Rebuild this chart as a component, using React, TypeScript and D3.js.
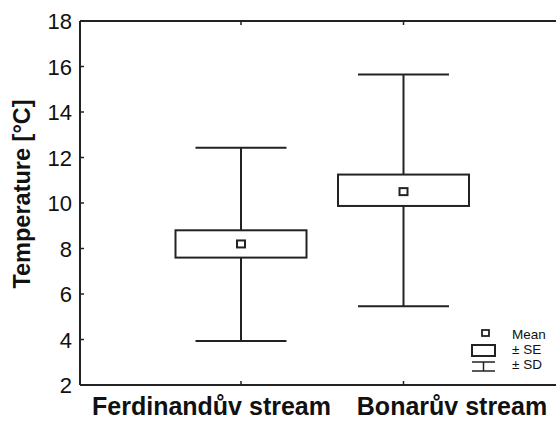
import React from "react";
import * as d3 from "d3";

// values
const streams = ["Ferdinandův stream", "Bonarův stream"];
const means = [8.2, 10.5];
const seLow = [7.6, 9.87];
const seHigh = [8.8, 11.25];
const sdLow = [3.93, 5.46];
const sdHigh = [12.43, 15.65];
const yTicks = [2, 4, 6, 8, 10, 12, 14, 16, 18];
const legendItems = ["Mean", "± SE", "± SD"];

const W = 556;
const H = 421;
const margin = { top: 21, left: 80, bottom: 36 };
const ink = "#222";

export default function App() {
  const y = d3
    .scaleLinear()
    .domain([2, 18])
    .range([H - margin.bottom, margin.top]);
  const x = d3.scalePoint().domain(streams).range([241, 403.5]);

  const boxW = 131;
  const capW = 91;
  // labels in the original are pushed apart so they don't collide
  const labelShift = [-29.5, 48.5];

  return (
    <svg
      width={W}
      height={H}
      style={{ position: "absolute", left: 0, top: 0 }}
      fontFamily="'Liberation Sans', Arial, sans-serif"
    >
      <rect width={W} height={H} fill="#fff" />
      {/* frame */}
      <line x1={margin.left} x2={W + 5} y1={y(18)} y2={y(18)} stroke={ink} strokeWidth={2} />
      <line x1={margin.left} x2={W + 5} y1={y(2)} y2={y(2)} stroke={ink} strokeWidth={2} />
      <line x1={margin.left} x2={margin.left} y1={y(18)} y2={y(2)} stroke={ink} strokeWidth={2} />

      {/* y ticks */}
      {yTicks.map((t) => (
        <g key={t}>
          <line x1={margin.left} x2={margin.left + 4} y1={y(t)} y2={y(t)} stroke={ink} strokeWidth={1.5} />
          <text x={72} y={y(t) + 8} textAnchor="end" fontSize={22} fill="#111">
            {t}
          </text>
        </g>
      ))}

      {/* x ticks + labels */}
      {streams.map((s, i) => (
        <g key={s}>
          <line x1={x(s)} x2={x(s)} y1={y(2)} y2={y(2) - 4} stroke={ink} strokeWidth={1.5} />
          <line x1={x(s)} x2={x(s)} y1={y(18)} y2={y(18) + 4} stroke={ink} strokeWidth={1.5} />
          <text
            x={(x(s) as number) + labelShift[i]}
            y={415}
            textAnchor="middle"
            fontSize={25}
            fontWeight="bold"
            fill="#111"
          >
            {s}
          </text>
        </g>
      ))}

      <text
        transform={`translate(30,194) rotate(-90)`}
        textAnchor="middle"
        fontSize={23.5}
        fontWeight="bold"
        fill="#111"
      >
        Temperature [°C]
      </text>

      {/* boxes */}
      {streams.map((s, i) => {
        const cx = x(s) as number;
        return (
          <g key={s} stroke={ink} strokeWidth={2} fill="#fff">
            <line x1={cx} x2={cx} y1={y(sdHigh[i])} y2={y(sdLow[i])} />
            <line x1={cx - capW / 2} x2={cx + capW / 2} y1={y(sdHigh[i])} y2={y(sdHigh[i])} />
            <line x1={cx - capW / 2} x2={cx + capW / 2} y1={y(sdLow[i])} y2={y(sdLow[i])} />
            <rect x={cx - boxW / 2} y={y(seHigh[i])} width={boxW} height={y(seLow[i]) - y(seHigh[i])} />
            <rect x={cx - 4} y={y(means[i]) - 3.5} width={8} height={7} />
          </g>
        );
      })}

      {/* legend */}
      <g stroke={ink} fill="#fff">
        <rect x={482} y={330} width={7} height={6} strokeWidth={1.8} />
        <rect x={472} y={345} width={23} height={11} strokeWidth={2} />
        <line x1={472} x2={495} y1={362} y2={362} strokeWidth={1.5} />
        <line x1={483.5} x2={483.5} y1={362} y2={371} strokeWidth={1.5} />
        <line x1={472} x2={495} y1={371} y2={371} strokeWidth={1.5} />
      </g>
      {legendItems.map((l, i) => (
        <text key={l} x={512} y={339 + i * 15} fontSize={13.5} fill="#111">
          {l}
        </text>
      ))}
    </svg>
  );
}
